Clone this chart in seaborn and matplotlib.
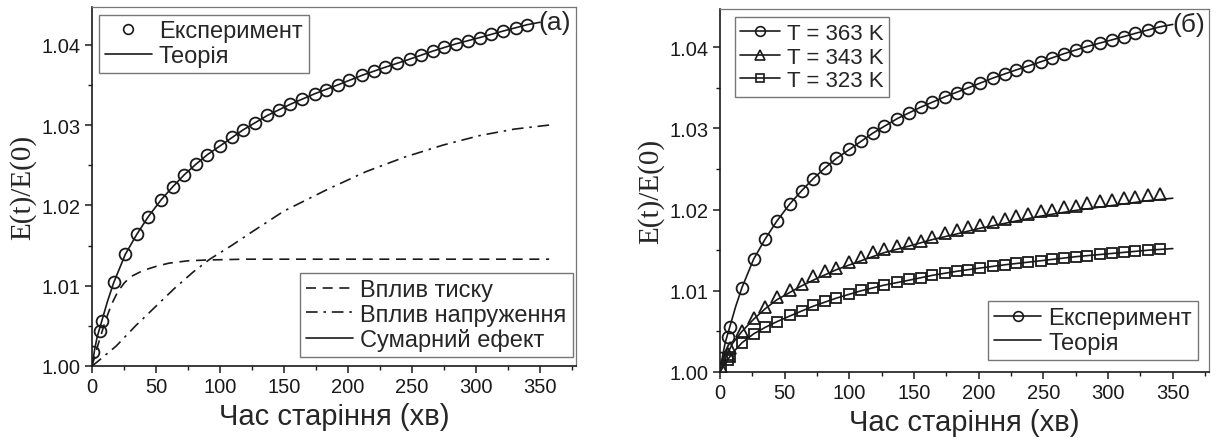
import matplotlib
matplotlib.use("Agg")
import matplotlib.pyplot as plt
from matplotlib.lines import Line2D
from matplotlib.ticker import MultipleLocator, FormatStrFormatter
import seaborn as sns

# ---- experimental data: T = 363 K (also shown in panel a) ----
t_exp = [1, 6, 8, 17, 26, 35, 44, 54, 63, 72, 81, 90, 100, 109, 118, 127, 137,
         146, 155, 164, 174, 183, 192, 201, 211, 220, 229, 238, 248, 257, 266,
         275, 284, 294, 303, 312, 321, 331, 340]
e363 = [1.0017, 1.0043, 1.0056, 1.0104, 1.0139, 1.0164, 1.0186, 1.0207, 1.0223,
        1.0238, 1.0251, 1.0263, 1.0274, 1.0285, 1.0294, 1.0303, 1.0312, 1.0319,
        1.0326, 1.0333, 1.0339, 1.0344, 1.0350, 1.0356, 1.0362, 1.0367, 1.0372,
        1.0377, 1.0382, 1.0387, 1.0392, 1.0397, 1.0401, 1.0405, 1.0409, 1.0413,
        1.0417, 1.0421, 1.0425]
e343 = [1.0006, 1.0022, 1.0030, 1.0051, 1.0067, 1.0080, 1.0092, 1.0101, 1.0108,
        1.0118, 1.0124, 1.0128, 1.0135, 1.0141, 1.0148, 1.0151, 1.0155, 1.0159,
        1.0161, 1.0166, 1.0171, 1.0175, 1.0178, 1.0181, 1.0185, 1.0188, 1.0192,
        1.0195, 1.0198, 1.0200, 1.0203, 1.0205, 1.0208, 1.0210, 1.0212, 1.0214,
        1.0215, 1.0218, 1.0219]
e323 = [1.0004, 1.0015, 1.0019, 1.0036, 1.0047, 1.0055, 1.0062, 1.0070, 1.0075,
        1.0082, 1.0087, 1.0091, 1.0096, 1.0101, 1.0104, 1.0107, 1.0111, 1.0114,
        1.0116, 1.0119, 1.0122, 1.0124, 1.0126, 1.0128, 1.0130, 1.0132, 1.0134,
        1.0136, 1.0137, 1.0139, 1.0140, 1.0142, 1.0143, 1.0145, 1.0146, 1.0148,
        1.0149, 1.0150, 1.0152]

# ---- theory curves ----
t_th363 = [0, 2, 4, 6, 8, 12, 17, 26, 35, 44, 54, 63, 72, 81, 90, 100, 118, 137,
           155, 174, 192, 211, 229, 248, 266, 284, 303, 321, 340, 350]
th363 = [1.0000, 1.0020, 1.0036, 1.0047, 1.0058, 1.0080, 1.0104, 1.0139, 1.0164,
         1.0186, 1.0207, 1.0223, 1.0238, 1.0251, 1.0263, 1.0274, 1.0294, 1.0312,
         1.0326, 1.0339, 1.0350, 1.0362, 1.0372, 1.0382, 1.0392, 1.0401, 1.0409,
         1.0417, 1.0425, 1.0428]
t_th = [0, 5, 10, 17, 26, 35, 44, 54, 63, 72, 90, 109, 127, 146, 164, 183, 201,
        220, 248, 275, 303, 331, 350]
th343 = [1.0000, 1.0020, 1.0036, 1.0050, 1.0065, 1.0078, 1.0089, 1.0098, 1.0106,
         1.0113, 1.0126, 1.0137, 1.0147, 1.0155, 1.0163, 1.0170, 1.0177, 1.0183,
         1.0192, 1.0199, 1.0205, 1.0211, 1.0214]
th323 = [1.0000, 1.0013, 1.0024, 1.0036, 1.0047, 1.0055, 1.0062, 1.0069, 1.0075,
         1.0081, 1.0091, 1.0100, 1.0107, 1.0113, 1.0119, 1.0124, 1.0128, 1.0132,
         1.0137, 1.0142, 1.0146, 1.0150, 1.0152]

# ---- separate contributions (panel a) ----
t_p = [0, 5, 10, 15, 20, 25, 30, 40, 50, 60, 75, 90, 120, 200, 280, 357]
pressure = [1.0000, 1.0028, 1.0054, 1.0076, 1.0092, 1.0103, 1.0111, 1.0119,
            1.0124, 1.0128, 1.0131, 1.0132, 1.0133, 1.0133, 1.0133, 1.0133]
t_s = [0, 4, 19, 34, 49, 64, 79, 92, 109, 124, 150, 184, 214, 244, 274, 303,
       330, 357]
stress = [1.0000, 1.0005, 1.0025, 1.0050, 1.0073, 1.0096, 1.0117, 1.0133, 1.0150,
          1.0166, 1.0193, 1.0220, 1.0242, 1.0260, 1.0275, 1.0287, 1.0295, 1.0300]

sns.set_theme(style="ticks")
plt.rcParams["font.family"] = ["Liberation Sans", "DejaVu Sans"]

W, H = 1218, 439
fig = plt.figure(figsize=(W / 100, H / 100), dpi=100)
axA = fig.add_axes([92 / W, 1 - 367 / H, (576 - 92) / W, (367 - 8) / H])
axB = fig.add_axes([720 / W, 1 - 373 / H, (1209 - 720) / W, (373 - 10) / H])

LW = 1.2
MS = 8.5
MEW = 1.3
mk = dict(linestyle="", markerfacecolor="none", markeredgecolor="k",
          markersize=MS, markeredgewidth=MEW, color="k")

DASH = (0, (6, 4))
DASHDOT = (0, (7, 3.5, 1.5, 3.5))

# panel (а)
sns.lineplot(x=t_p, y=pressure, ax=axA, color="k", lw=LW, linestyle=DASH)
sns.lineplot(x=t_s, y=stress, ax=axA, color="k", lw=LW, linestyle=DASHDOT)
sns.lineplot(x=t_th363, y=th363, ax=axA, color="k", lw=LW)
sns.lineplot(x=t_exp, y=e363, ax=axA, marker="o", **mk)

# panel (б)
sns.lineplot(x=t_th363, y=th363, ax=axB, color="k", lw=LW)
sns.lineplot(x=t_th, y=th343, ax=axB, color="k", lw=LW)
sns.lineplot(x=t_th, y=th323, ax=axB, color="k", lw=LW)
sns.lineplot(x=t_exp, y=e363, ax=axB, marker="o", **mk)
sns.lineplot(x=t_exp, y=e343, ax=axB, marker="^", **mk)
sns.lineplot(x=t_exp, y=e323, ax=axB, marker="s", **dict(mk, markersize=7.5))

for ax in (axA, axB):
    ax.set_xlim(0, 378)
    ax.set_ylim(1.0, 1.0447)
    ax.xaxis.set_major_locator(MultipleLocator(50))
    ax.xaxis.set_minor_locator(MultipleLocator(25))
    ax.yaxis.set_major_locator(MultipleLocator(0.01))
    ax.yaxis.set_minor_locator(MultipleLocator(0.005))
    ax.yaxis.set_major_formatter(FormatStrFormatter("%.2f"))
    ax.tick_params(which="major", direction="out", length=5, width=1.1,
                   labelsize=14.5, colors="k", pad=3)
    ax.tick_params(which="minor", direction="out", length=3, width=1.0, colors="k")
    ax.tick_params(top=False, right=False, which="both")
    for side in ("left", "bottom"):
        ax.spines[side].set_color("k")
        ax.spines[side].set_linewidth(1.2)
    for side in ("top", "right"):
        ax.spines[side].set_visible(True)
        ax.spines[side].set_color("#777777")
        ax.spines[side].set_linewidth(0.9)
    ax.set_xlabel("Час старіння (хв)", fontsize=21, labelpad=4)
    ax.set_ylabel("E(t)/E(0)", fontsize=21, family=["Liberation Serif"], labelpad=4)

axA.text(349, 1.0428, "(а)", fontsize=19, ha="left", va="center")
axB.text(350, 1.0428, "(б)", fontsize=19, ha="left", va="center")

leg_kw = dict(fontsize=17, frameon=True, fancybox=False, edgecolor="#777777",
              framealpha=1, borderpad=0.25, labelspacing=0.1, handlelength=2.0,
              handletextpad=0.3, borderaxespad=0)
hm = dict(color="k", markerfacecolor="none", markeredgecolor="k",
          markersize=7, markeredgewidth=1.2, lw=LW)

h_exp = Line2D([], [], marker="o", linestyle="", **{k: v for k, v in hm.items() if k != "lw"})
h_th = Line2D([], [], color="k", lw=LW)
legA1 = axA.legend([h_exp, h_th], ["Експеримент", "Теорія"],
                   loc="upper left", bbox_to_anchor=(0.014, 0.979), **leg_kw)
axA.add_artist(legA1)
h_p = Line2D([], [], color="k", lw=LW, linestyle=DASH)
h_s = Line2D([], [], color="k", lw=LW, linestyle=DASHDOT)
h_sum = Line2D([], [], color="k", lw=LW)
axA.legend([h_p, h_s, h_sum], ["Вплив тиску", "Вплив напруження", "Сумарний ефект"],
           loc="lower right", bbox_to_anchor=(0.993, 0.025), **leg_kw)

h363 = Line2D([], [], marker="o", **hm)
h343 = Line2D([], [], marker="^", **hm)
h323 = Line2D([], [], marker="s", **dict(hm, markersize=6))
legB1 = axB.legend([h363, h343, h323], ["T = 363 K", "T = 343 K", "T = 323 K"],
                   loc="upper left", bbox_to_anchor=(0.03, 0.977),
                   **dict(leg_kw, fontsize=16, handlelength=1.8, labelspacing=0.12))
axB.add_artist(legB1)
axB.legend([Line2D([], [], marker="o", **hm), Line2D([], [], color="k", lw=LW)],
           ["Експеримент", "Теорія"],
           loc="lower right", bbox_to_anchor=(0.977, 0.034), **leg_kw)

fig.savefig("out.png", dpi=100)
